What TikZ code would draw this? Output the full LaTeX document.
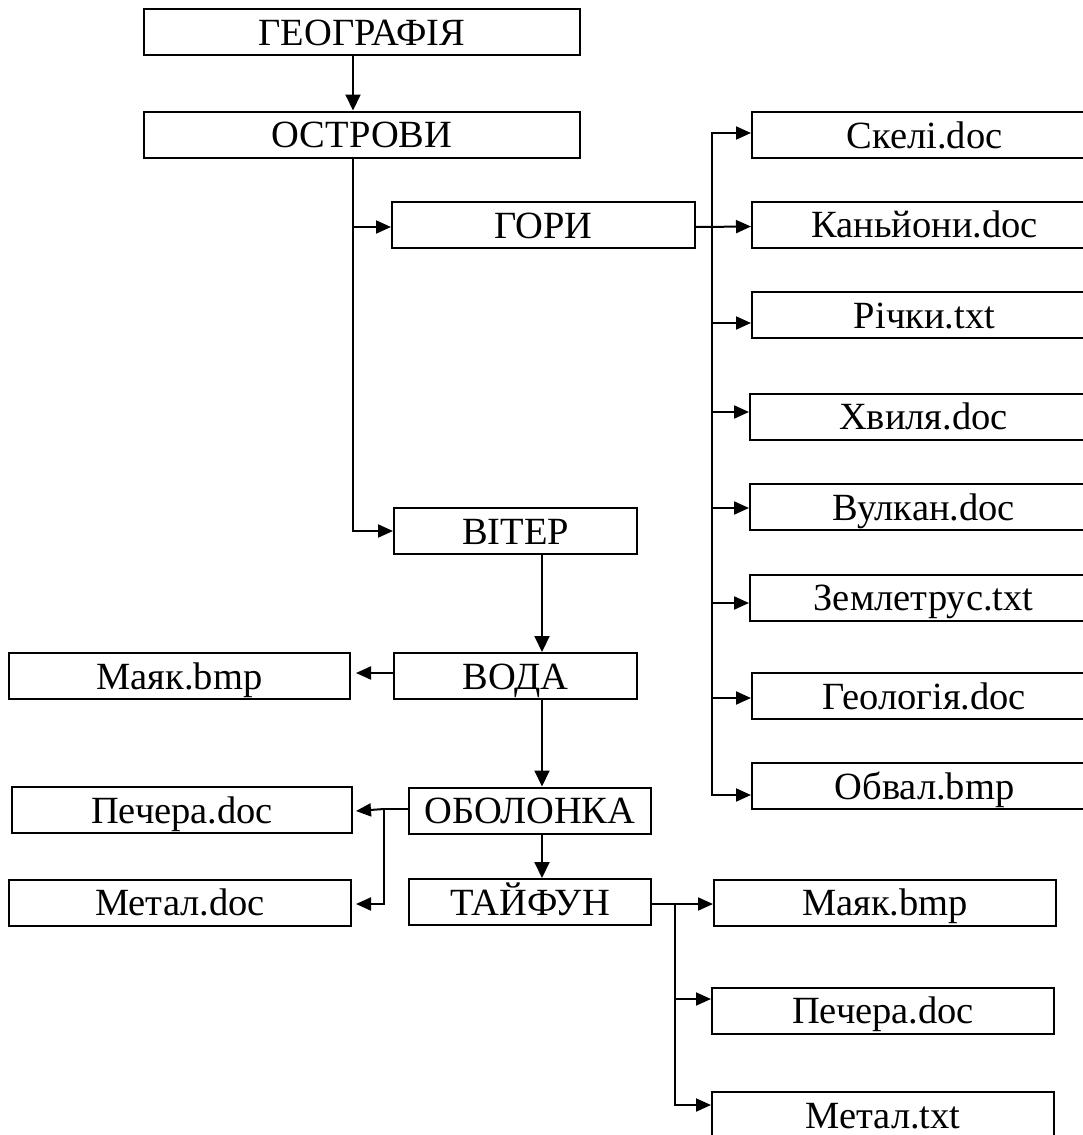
\documentclass[tikz,border=0pt]{standalone}
\usepackage{fontspec}
\setmainfont{Liberation Serif}
\usetikzlibrary{arrows.meta}
\begin{document}
\begin{tikzpicture}[x=1pt,y=-1pt,
  box/.style={draw,line width=2pt,inner sep=0pt,minimum height=46pt,
    text height=36pt,text depth=10pt,
    font=\fontsize{38.5}{44}\selectfont,anchor=center},
  link/.style={line width=2pt},
  harr/.style={line width=2pt,-{Triangle[length=15pt,width=13pt]}},
  varr/.style={line width=2pt,-{Triangle[length=16pt,width=15pt]}}]
\clip (0,0) rectangle (1083,1135);
\useasboundingbox (0,0) rectangle (1083,1135);

% main column
\node[box,minimum width=436pt] (geo) at (362,32) {ГЕОГРАФІЯ};
\node[box,minimum width=436pt] (ost) at (362,134.5) {ОСТРОВИ};
\node[box,minimum width=303pt] (gori) at (543.5,225) {ГОРИ};
\node[box,minimum width=243pt] (viter) at (515.5,531) {ВІТЕР};
\node[box,minimum width=243pt] (voda) at (515.5,676) {ВОДА};
\node[box,minimum width=242pt] (obol) at (530,810.5) {ОБОЛОНКА};
\node[box,minimum width=242pt] (taif) at (530,902) {ТАЙФУН};

% files under ГОРИ
\node[box,minimum width=345pt] (skeli) at (924.5,135) {Скелі.doc};
\node[box,minimum width=345pt] (kanj) at (924.5,224.5) {Каньйони.doc};
\node[box,minimum width=345pt] (richky) at (924.5,315) {Річки.txt};
\node[box,minimum width=347pt] (khvyl) at (923.5,416.5) {Хвиля.doc};
\node[box,minimum width=347pt] (vulk) at (923.5,507) {Вулкан.doc};
\node[box,minimum width=347pt] (zeml) at (923.5,597.5) {Землетрус.txt};
\node[box,minimum width=345pt] (geol) at (924.5,696) {Геологія.doc};
\node[box,minimum width=345pt] (obval) at (924.5,786) {Обвал.bmp};

% files on the left
\node[box,minimum width=341pt] (mayakA) at (179.5,676) {Маяк.bmp};
\node[box,minimum width=340pt] (pecherA) at (182,810) {Печера.doc};
\node[box,minimum width=342pt] (metalA) at (180,902.5) {Метал.doc};

% files under ТАЙФУН
\node[box,minimum width=342pt] (mayakB) at (885,902.5) {Маяк.bmp};
\node[box,minimum width=342pt] (pecherB) at (883,1010.5) {Печера.doc};
\node[box,minimum width=342pt] (metalB) at (883,1115) {Метал.txt};

% spine positions
\coordinate (s1) at (353,0);
\coordinate (s2) at (712,0);
\coordinate (s3) at (542,0);
\coordinate (s4) at (384,0);
\coordinate (s5) at (675,0);

% ГЕОГРАФІЯ -> ОСТРОВИ
\draw[varr] (geo.south -| s1) -- (ost.north -| s1);

% ОСТРОВИ -> ГОРИ, ВІТЕР
\draw[harr] (ost.south -| s1) -- (s1 |- viter.west) -- (viter.west);
\draw[harr] ([yshift=-2pt]s1 |- gori.west) -- ([yshift=-2pt]gori.west);

% ГОРИ -> files
\draw[harr] ([yshift=-2pt]gori.east) -- ([yshift=-2pt]kanj.west);
\draw[harr] ([yshift=-2pt]s2 |- gori.east) -- ([yshift=2pt]s2 |- skeli.west) -- ([yshift=2pt]skeli.west);
\draw[harr] ([yshift=-2pt]s2 |- gori.east) -- ([yshift=-9pt]s2 |- obval.west) -- ([yshift=-9pt]obval.west);
\draw[harr] ([yshift=-8pt]s2 |- richky.west) -- ([yshift=-8pt]richky.west);
\draw[harr] ([yshift=4.5pt]s2 |- khvyl.west) -- ([yshift=4.5pt]khvyl.west);
\draw[harr] ([yshift=-1pt]s2 |- vulk.west) -- ([yshift=-1pt]vulk.west);
\draw[harr] ([yshift=-5.5pt]s2 |- zeml.west) -- ([yshift=-5.5pt]zeml.west);
\draw[harr] ([yshift=-2pt]s2 |- geol.west) -- ([yshift=-2pt]geol.west);

% ВІТЕР -> ВОДА -> ОБОЛОНКА -> ТАЙФУН
\draw[varr] (viter.south -| s3) -- (voda.north -| s3);
\draw[varr] (voda.south -| s3) -- (obol.north -| s3);
\draw[varr] (obol.south -| s3) -- (taif.north -| s3);

% ВОДА -> Маяк.bmp
\draw[harr] ([yshift=3pt]voda.west) -- ([xshift=5pt,yshift=3pt]mayakA.east);

% ОБОЛОНКА -> left files
\draw[link] ([yshift=1.5pt]obol.west) -- ([yshift=1.5pt]s4 |- obol.west);
\draw[harr] ([yshift=1.5pt]s4 |- obol.west) -- ([xshift=3pt,yshift=-1pt]pecherA.east);
\draw[harr] ([yshift=1.5pt]s4 |- obol.west) -- ([yshift=-1.5pt]s4 |- metalA.east) -- ([xshift=4pt,yshift=-1.5pt]metalA.east);

% ТАЙФУН -> files
\draw[harr] ([yshift=-2pt]taif.east) -- ([yshift=-2pt]taif.east -| mayakB.west);
\draw[harr] ([yshift=-2pt]s5 |- taif.east) -- ([yshift=11.5pt]s5 |- pecherB.west) -- ([yshift=11.5pt]pecherB.west);
\draw[harr] ([yshift=-2pt]s5 |- taif.east) -- ([yshift=10pt]s5 |- metalB.west) -- ([yshift=10pt]metalB.west);
\end{tikzpicture}
\end{document}
